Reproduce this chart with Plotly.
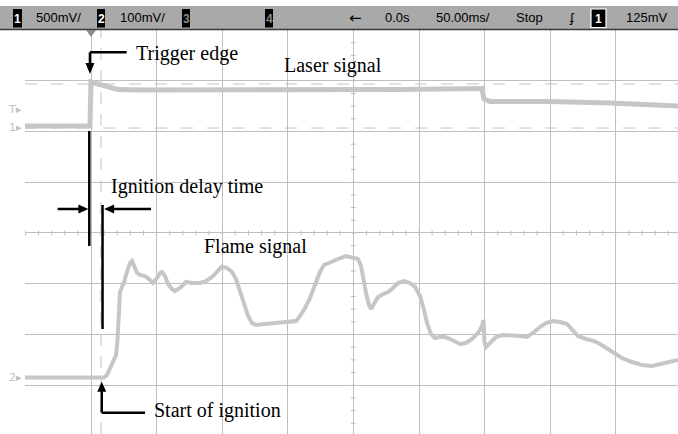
import numpy as np
import plotly.graph_objects as go

# ---------------- data (time in ms, 50 ms/div, trigger at t = 0) ----------------
laser_t = [-50.3, -0.8, 0.0, 3.0, 6.9, 10.7, 14.5, 20.6, 37.3, 121.2, 235.5, 298.0,
           299.5, 304.1, 349.8, 395.6, 418.5, 447.4]
laser_v = [0.010, 0.010, 0.443, 0.433, 0.419, 0.399, 0.384, 0.369, 0.365, 0.365, 0.369, 0.379,
           0.276, 0.251, 0.251, 0.236, 0.222, 0.207]          # volts (500 mV/div)

flame_t = [-50.3, 9.9, 12.2, 14.5, 16.8, 19.1, 20.2, 21.3, 22.1, 23.6, 25.2, 27.4, 29.7, 31.3,
           32.8, 35.1, 37.3, 41.2, 45.0, 47.3, 50.3, 52.6, 54.1, 56.4, 58.7, 61.7, 64.0, 67.8,
           72.4, 77.0, 83.1, 87.7, 92.2, 96.8, 99.8, 103.7, 107.5, 110.5, 113.6, 116.6, 119.7,
           122.7, 125.8, 132.6, 140.2, 147.9, 156.3, 159.3, 163.1, 166.9, 170.7, 174.5, 177.6,
           182.2, 188.3, 194.4, 198.9, 203.5, 205.8, 207.3, 209.6, 211.9, 213.4, 215.7, 218.8,
           222.6, 226.4, 230.2, 234.0, 238.6, 243.1, 247.0, 250.8, 253.8, 256.1, 259.1, 262.2,
           266.0, 269.8, 275.2, 281.3, 285.8, 290.4, 295.0, 298.0, 299.2, 299.9, 301.1, 304.1,
           308.7, 314.0, 321.6, 327.0, 332.3, 336.9, 342.2, 346.8, 352.1, 357.5, 362.8, 366.6,
           371.2, 377.3, 383.4, 388.0, 392.5, 398.6, 404.7, 412.3, 420.0, 427.6, 435.2, 441.3,
           447.4]
flame_mv = [0, 0, 4.9, 18.7, 30.6, 44.3, 73.9, 132.8, 168.3, 178.3, 188.2, 207.9, 225.6, 229.5,
            221.7, 205.9, 202.0, 200.0, 192.1, 186.2, 196.1, 205.9, 207.9, 200.0, 184.2, 174.4,
            170.4, 176.3, 188.2, 186.2, 186.2, 190.1, 198.0, 211.8, 218.7, 215.8, 207.9, 194.1,
            168.3, 144.8, 121.2, 107.4, 103.4, 105.4, 107.4, 109.4, 111.3, 121.2, 136.9, 156.6,
            182.3, 207.9, 221.7, 227.6, 233.5, 239.4, 237.4, 233.5, 219.7, 198.0, 166.5, 142.9,
            135.0, 144.8, 158.6, 164.5, 168.3, 176.3, 186.2, 190.1, 186.2, 178.3, 160.6, 133.0,
            107.4, 85.7, 77.8, 79.8, 79.8, 73.9, 66.0, 68.0, 75.9, 87.7, 101.5, 113.3, 69.9,
            60.1, 68.0, 79.8, 83.7, 83.7, 81.8, 79.8, 87.7, 99.5, 107.4, 111.3, 109.4, 105.4,
            95.6, 81.8, 75.9, 71.9, 66.0, 58.1, 48.3, 38.4, 30.5, 24.6, 22.7, 26.6, 30.5, 34.5]  # mV (100 mV/div)

top_bar_labels = ["500mV/", "100mV/", "\u2190", "0.0s", "50.00ms/", "Stop", "\u0284", "125mV"]

# ---------------- helpers for chrome outside the plot area ----------------
W, H, L, T = 678, 434, 25, 30
def px_x(x):
    return (x - L) / (W - L)
def px_y(y):
    return (H - y) / (H - T)

GRID = "#bfbfbf"
TRACE = "#c6c6c6"

fig = go.Figure()
fig.add_trace(go.Scatter(x=laser_t, y=laser_v, mode="lines", yaxis="y2",
                         line=dict(color=TRACE, width=5), hoverinfo="skip", showlegend=False))
fig.add_trace(go.Scatter(x=flame_t, y=flame_mv, mode="lines", yaxis="y3",
                         line=dict(color=TRACE, width=4), hoverinfo="skip", showlegend=False))

shapes = []
# top status bar
shapes.append(dict(type="rect", xref="paper", yref="paper", x0=px_x(0), x1=px_x(678),
                   y0=px_y(29.5), y1=px_y(6), fillcolor="#a9a9a9", line=dict(width=0), layer="above"))
shapes.append(dict(type="line", xref="paper", yref="paper", x0=px_x(0), x1=px_x(678),
                   y0=px_y(29.5), y1=px_y(29.5), line=dict(color="#3a3a3a", width=1.5)))
# channel boxes in bar
for (x0, x1, outline) in [(13, 22, None), (97, 105, None), (182, 190, None), (265, 273, None), (591, 606, "white")]:
    shapes.append(dict(type="rect", xref="paper", yref="paper", x0=px_x(x0), x1=px_x(x1),
                       y0=px_y(27.5), y1=px_y(9), fillcolor="black",
                       line=dict(width=1.2 if outline else 0, color=outline or "black")))

# cursor dashed lines
for v in [0.424, -0.010]:
    shapes.append(dict(type="line", xref="paper", yref="y2", x0=0, x1=1, y0=v, y1=v, layer="below",
                       line=dict(color="#c4c4c4", width=1, dash="12px,14px")))
shapes.append(dict(type="line", xref="x", yref="paper", x0=7.6, x1=7.6, y0=0, y1=1, layer="below",
                   line=dict(color="#c4c4c4", width=1, dash="12px,10px")))

# center axis minor ticks
for t in np.arange(-50, 450, 10):
    shapes.append(dict(type="line", xref="x", yref="y", ysizemode="pixel", yanchor=0,
                       x0=t, x1=t, y0=-2.5, y1=2.5, layer="below", line=dict(color=GRID, width=1)))
for d in np.arange(-3.75, 4.0, 0.25):
    shapes.append(dict(type="line", xref="x", yref="y", xsizemode="pixel", xanchor=200,
                       x0=-2.5, x1=2.5, y0=d, y1=d, layer="below", line=dict(color=GRID, width=1)))

# trigger position marker
shapes.append(dict(type="path", xref="x", yref="paper", xsizemode="pixel", ysizemode="pixel",
                   xanchor=0, yanchor=1, path="M -5 0 L 5 0 L 0 -7 Z",
                   fillcolor="#8a8a8a", line=dict(width=0)))

BLK = dict(color="black", width=2.5)
def seg(x0, y0, x1, y1):
    shapes.append(dict(type="line", xref="x", yref="y", x0=x0, x1=x1, y0=y0, y1=y1, line=BLK))
def head(x, y, path):
    shapes.append(dict(type="path", xref="x", yref="y", xsizemode="pixel", ysizemode="pixel",
                       xanchor=x, yanchor=y, path=path, fillcolor="black", line=dict(width=0)))

# Trigger edge arrow
seg(27.2, 3.561, -0.8, 3.561)
seg(-0.8, 3.561, -0.8, 3.30)
head(-0.8, 3.133, "M -4.5 11 L 4.5 11 L 0 0 Z")
# ignition delay bars
seg(-1.3, 2.010, -1.3, -0.256)
seg(8.8, 0.552, 8.8, -1.892)
seg(-25.4, 0.473, -8.0, 0.473)
head(-2.0, 0.473, "M -10 -4.5 L -10 4.5 L 0 0 Z")
seg(45.7, 0.473, 16.0, 0.473)
head(10.0, 0.473, "M 10 -4.5 L 10 4.5 L 0 0 Z")
# Start of ignition arrow
seg(41.2, -3.541, 8.2, -3.541)
seg(8.2, -3.541, 8.2, -3.05)
head(8.2, -2.93, "M -4.5 -10 L 4.5 -10 L 0 0 Z")

annotations = []
SERIF = dict(family="Liberation Serif, Times New Roman, serif", size=20, color="black")
def note(text, x, y, xanchor="left"):
    annotations.append(dict(text=text, x=x, y=y, xref="x", yref="y", xanchor=xanchor,
                            yanchor="middle", showarrow=False, font=SERIF))
note("Trigger edge", 32.6, 3.537)
note("Laser signal", 184.8, 3.310, "center")
note("Ignition delay time", 13.8, 0.912)
note("Flame signal", 84.8, -0.266)
note("Start of ignition", 46.8, -3.488)

# status bar text
SANS = dict(family="Liberation Sans, Arial, sans-serif", size=13, color="black")
bar_centers = [58.5, 142.5, 355.5, 397.5, 463, 529, 571.5, 647]
for lab, cx in zip(top_bar_labels, bar_centers):
    f = dict(SANS)
    if lab == "\u2190":
        f = dict(family="DejaVu Sans, sans-serif", size=15, color="black")
    annotations.append(dict(text=lab, x=px_x(cx), y=px_y(18), xref="paper", yref="paper",
                            xanchor="center", yanchor="middle", showarrow=False, font=f))
for lab, cx, col in [("1", 17.5, "white"), ("2", 101, "white"), ("3", 186, "#8a8a8a"),
                     ("4", 269, "#8a8a8a"), ("1", 598.5, "white")]:
    annotations.append(dict(text="<b>" + lab + "</b>", x=px_x(cx), y=px_y(18.5), xref="paper",
                            yref="paper", xanchor="center", yanchor="middle", showarrow=False,
                            font=dict(family="Liberation Sans, Arial, sans-serif", size=12, color=col)))
# channel markers at left
for lab, yy in [("T\u25B8", 110), ("1\u25B8", 127), ("2\u25B8", 377)]:
    annotations.append(dict(text=lab, x=px_x(24), y=px_y(yy), xref="paper", yref="paper",
                            xanchor="right", yanchor="middle", showarrow=False,
                            font=dict(family="DejaVu Sans, sans-serif", size=11, color="#c0c0c0")))

fig.update_layout(
    width=W, height=H,
    margin=dict(l=L, r=0, t=T, b=0, pad=0),
    paper_bgcolor="white", plot_bgcolor="white",
    showlegend=False,
    xaxis=dict(range=[-50.3, 447.4], tick0=0, dtick=50, showgrid=True, gridcolor=GRID, gridwidth=1,
               zeroline=False, showticklabels=False, ticks="", showline=False, fixedrange=True),
    yaxis=dict(range=[-3.961, 4.0], tick0=0, dtick=1, showgrid=True, gridcolor=GRID, gridwidth=1,
               zeroline=False, showticklabels=False, ticks="", showline=False, fixedrange=True),
    yaxis2=dict(range=[-3.0246, 0.9557], overlaying="y", visible=False, fixedrange=True),
    yaxis3=dict(range=[-111.3, 684.7], overlaying="y", visible=False, fixedrange=True),
    shapes=shapes,
    annotations=annotations,
)

fig.write_html("out.html")
